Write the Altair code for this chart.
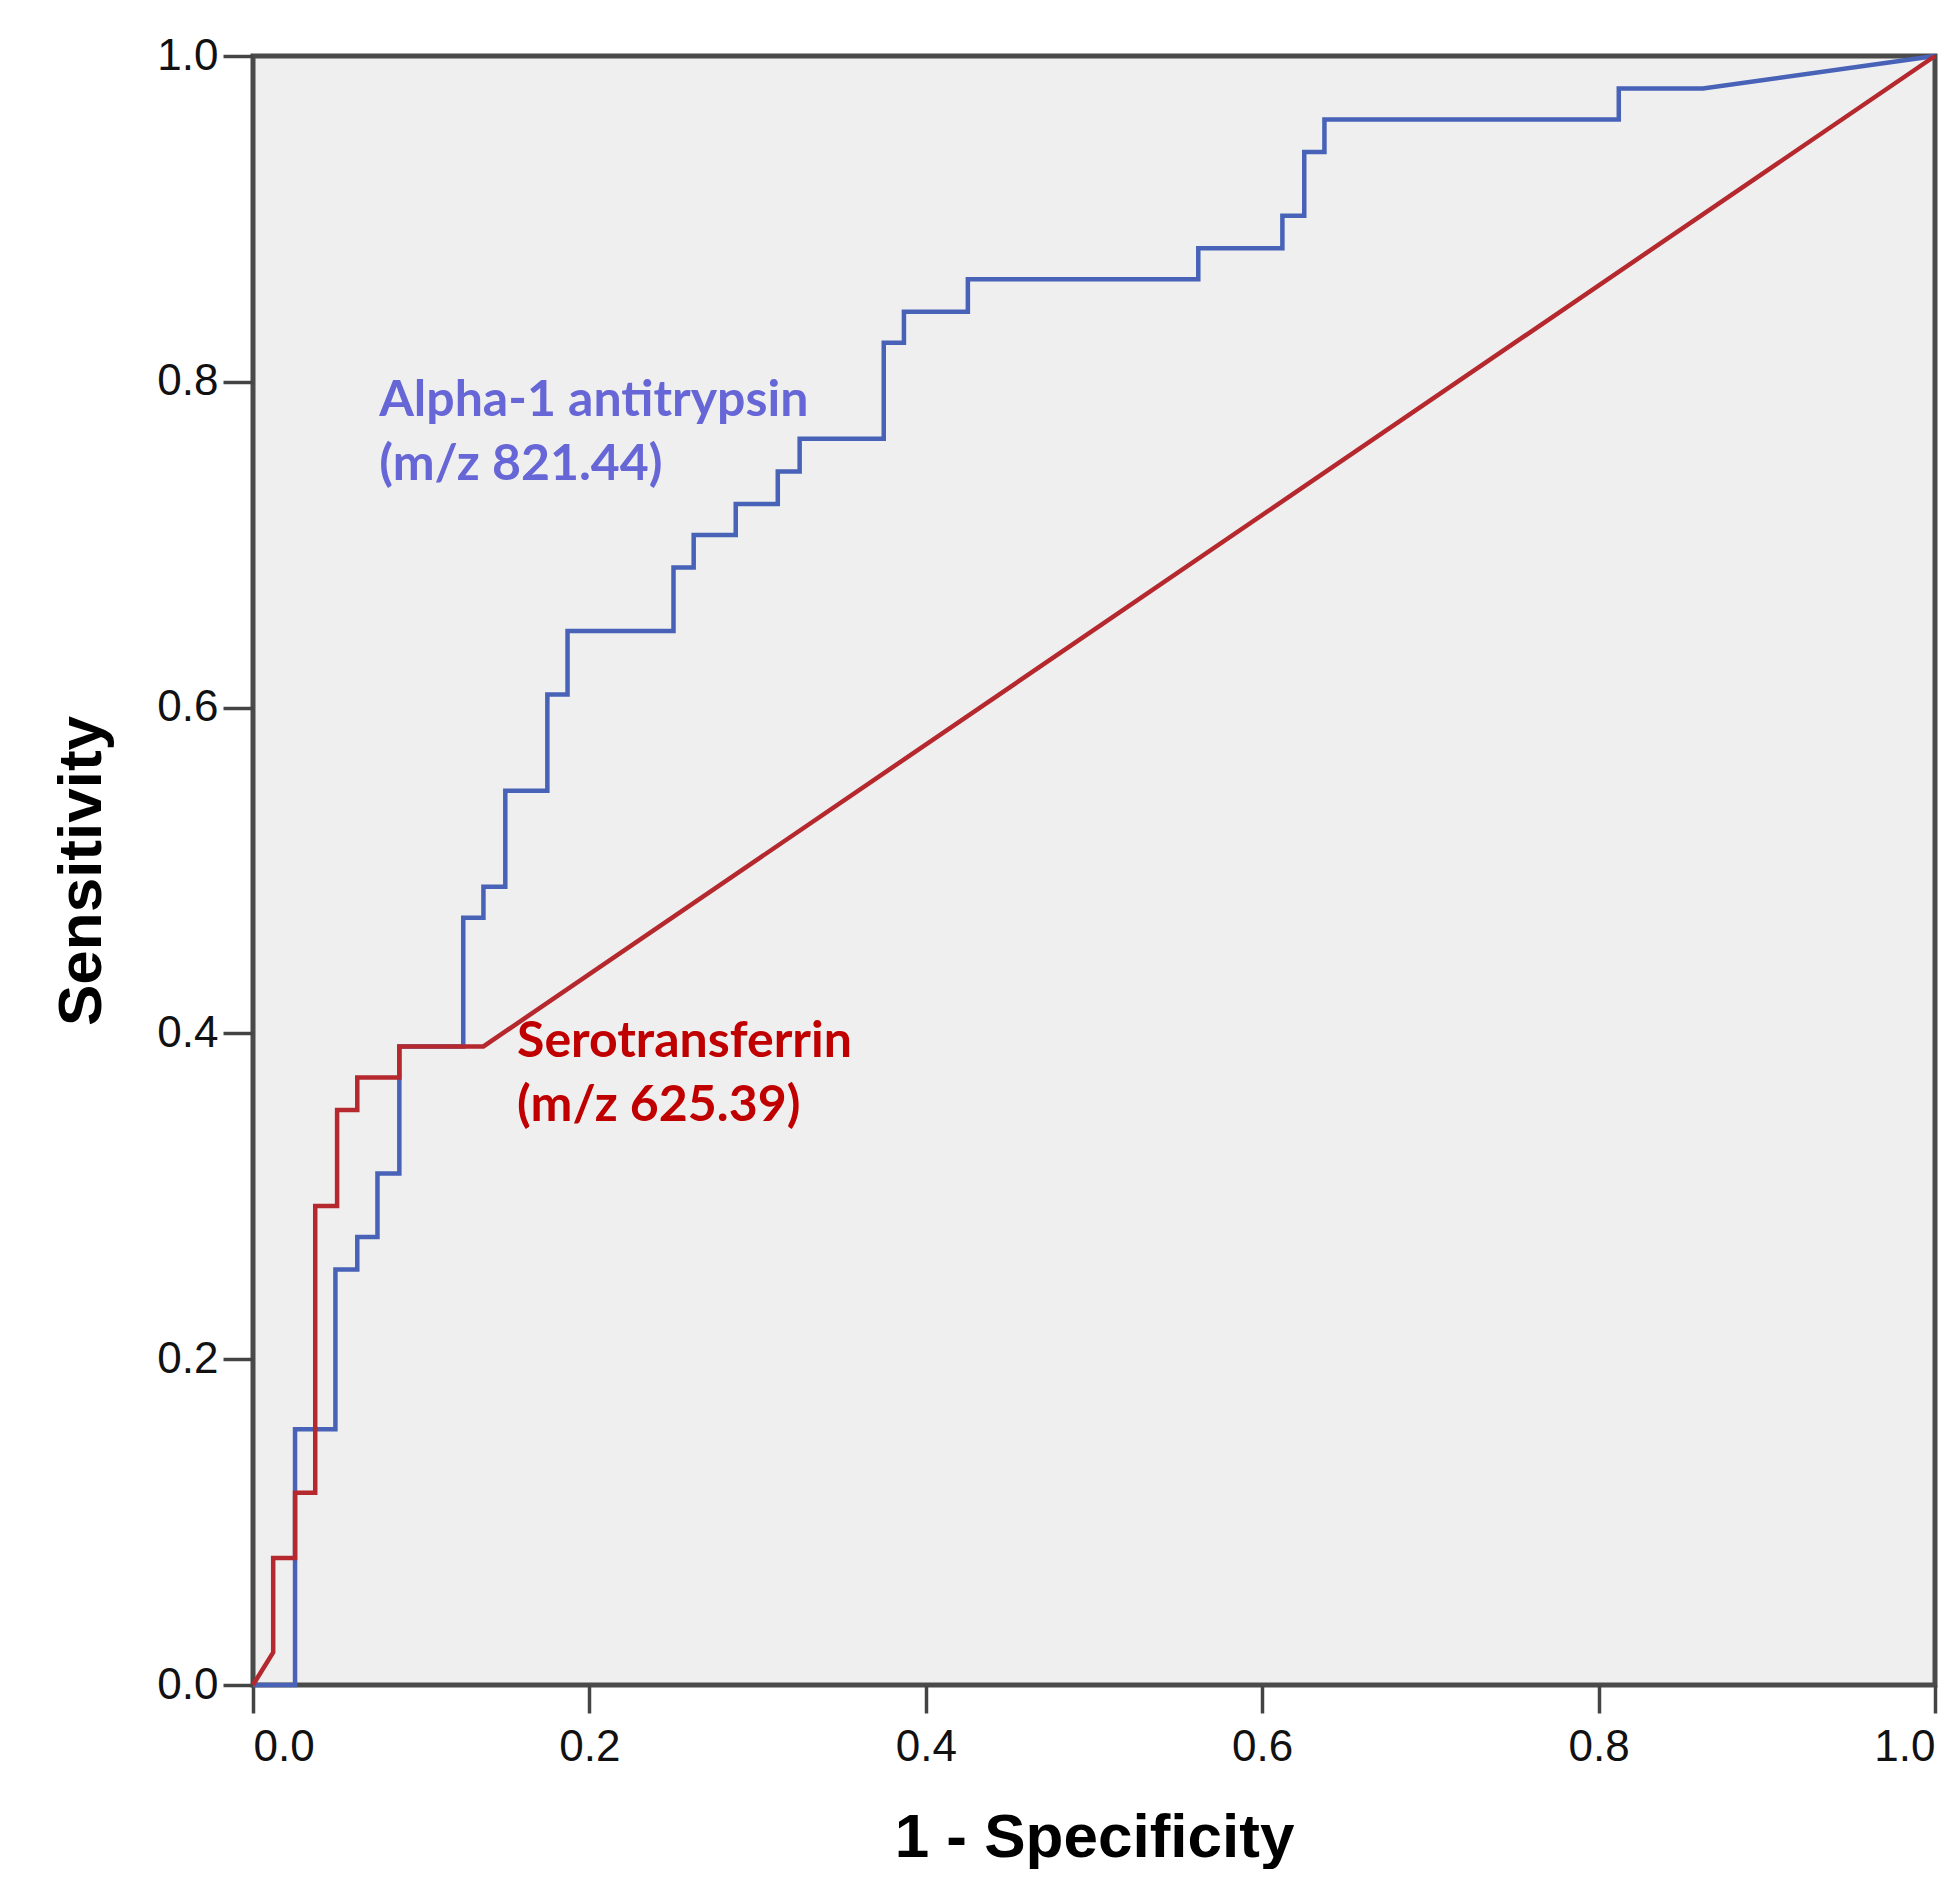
import altair as alt
import pandas as pd

# Alpha-1 antitrypsin (m/z 821.44) ROC curve vertices
a1at_fpr = [0.0, 0.025, 0.025, 0.049, 0.049, 0.062, 0.062, 0.074, 0.074, 0.087, 0.087,
            0.125, 0.125, 0.137, 0.137, 0.150, 0.150, 0.175, 0.175, 0.187, 0.187,
            0.250, 0.250, 0.262, 0.262, 0.287, 0.287, 0.312, 0.312, 0.325, 0.325,
            0.375, 0.375, 0.387, 0.387, 0.425, 0.425, 0.562, 0.562, 0.612, 0.612,
            0.625, 0.625, 0.637, 0.637, 0.812, 0.812, 0.862, 1.0]
a1at_tpr = [0.0, 0.0, 0.157, 0.157, 0.255, 0.255, 0.275, 0.275, 0.314, 0.314, 0.392,
            0.392, 0.471, 0.471, 0.490, 0.490, 0.549, 0.549, 0.608, 0.608, 0.647,
            0.647, 0.686, 0.686, 0.706, 0.706, 0.725, 0.725, 0.745, 0.745, 0.765,
            0.765, 0.824, 0.824, 0.843, 0.843, 0.863, 0.863, 0.882, 0.882, 0.902,
            0.902, 0.941, 0.941, 0.961, 0.961, 0.980, 0.980, 1.0]

# Serotransferrin (m/z 625.39) ROC curve vertices
strf_fpr = [0.0, 0.012, 0.012, 0.025, 0.025, 0.037, 0.037, 0.050, 0.050, 0.062, 0.062,
            0.087, 0.087, 0.137, 1.0]
strf_tpr = [0.0, 0.020, 0.078, 0.078, 0.118, 0.118, 0.294, 0.294, 0.353, 0.353, 0.373,
            0.373, 0.392, 0.392, 1.0]

label_text = [["Alpha-1 antitrypsin", "(m/z 821.44)"], ["Serotransferrin", "(m/z 625.39)"]]
label_x = [0.075, 0.157]
label_y = [0.788, 0.395]
label_color = ["#6666D6", "#C00000"]

x_ticks = [0.0, 0.2, 0.4, 0.6, 0.8, 1.0]
y_ticks = [0.0, 0.2, 0.4, 0.6, 0.8, 1.0]

rows = []
for i, (fx, ty) in enumerate(zip(a1at_fpr, a1at_tpr)):
    rows.append({"series": "Alpha-1 antitrypsin", "order": i, "fpr": fx, "tpr": ty})
for i, (fx, ty) in enumerate(zip(strf_fpr, strf_tpr)):
    rows.append({"series": "Serotransferrin", "order": i, "fpr": fx, "tpr": ty})
df = pd.DataFrame(rows)

lab = pd.DataFrame({"text": label_text, "x": label_x, "y": label_y, "color": label_color})

xs = alt.Scale(domain=[0, 1], nice=False, zero=False)
ys = alt.Scale(domain=[0, 1], nice=False, zero=False)

tick_font = "Liberation Sans, Arial, sans-serif"

x_axis = alt.Axis(values=x_ticks, format=".1f", grid=False, domain=False,
                  tickSize=28, tickWidth=3.5, tickColor="#444444",
                  labelFont=tick_font, labelFontSize=44, labelColor="#111111",
                  labelPadding=12, title="1 - Specificity", titleFont=tick_font,
                  titleFontSize=62, titleFontWeight="bold", titleColor="#000000",
                  titlePadding=38)
y_axis = alt.Axis(values=y_ticks, format=".1f", grid=False, domain=False,
                  tickSize=30, tickWidth=3.5, tickColor="#444444",
                  labelFont=tick_font, labelFontSize=44, labelColor="#111111",
                  labelPadding=5, title="Sensitivity", titleFont=tick_font,
                  titleFontSize=62, titleFontWeight="bold", titleColor="#000000",
                  titlePadding=43)

lines = alt.Chart(df).mark_line(strokeWidth=4.5, interpolate="linear").encode(
    x=alt.X("fpr:Q", scale=xs, axis=x_axis),
    y=alt.Y("tpr:Q", scale=ys, axis=y_axis),
    color=alt.Color("series:N", scale=alt.Scale(domain=["Alpha-1 antitrypsin", "Serotransferrin"],
                                                 range=["#4862B8", "#B5282E"]), legend=None),
    order="order:Q",
    detail="series:N",
)

labels = alt.Chart(lab).mark_text(align="left", baseline="middle", font="Lato, Open Sans, sans-serif",
                                  fontWeight="bold", fontSize=50, lineHeight=64).encode(
    x=alt.X("x:Q", scale=xs),
    y=alt.Y("y:Q", scale=ys),
    text="text",
    color=alt.Color("color:N", scale=None),
)

chart = (lines + labels).properties(
    width=1682, height=1629,
    autosize=alt.AutoSizeParams(type="none"),
    padding={"left": 245, "top": 48, "right": 5, "bottom": 184},
    background="#FFFFFF",
).configure_view(
    fill="#EFEFEF", stroke="#4A4A4A", strokeWidth=5,
)

chart.save("out.html", embed_options={"renderer": "svg", "actions": False})
